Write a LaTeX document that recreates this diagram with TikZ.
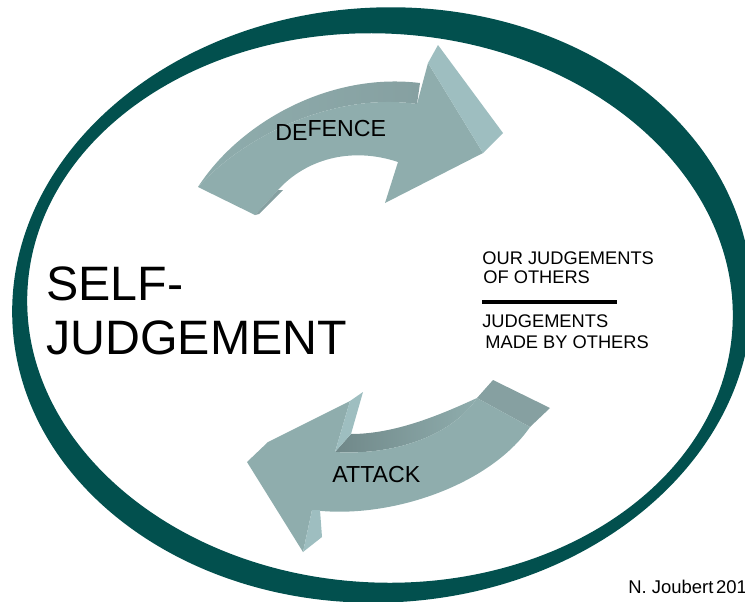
\documentclass[tikz,border=0pt]{standalone}
\usepackage{fontspec}
\setmainfont{Liberation Sans}
\usepackage{xcolor}
\usepackage{tikz}
\definecolor{ringteal}{RGB}{2,80,78}
\definecolor{arrowface}{RGB}{143,173,173}
\definecolor{arrowlit}{RGB}{158,190,192}
\definecolor{arrowdark}{RGB}{112,136,137}
\definecolor{arrowtop}{RGB}{134,160,161}

\begin{document}
\begin{tikzpicture}[
                x = 0.02cm, y = -0.02cm,
                every node/.append style = {anchor = base west, inner sep = 0pt},
                ring/.style = {fill = ringteal, even odd rule},
                face/.style = {fill = arrowface},
                litface/.style = {fill = arrowlit},
                tailface/.style = {fill = arrowtop},
                band/.style = {left color = arrowdark, right color = arrowface},
                topband/.style = {left color = arrowface, middle color = arrowdark, right color = arrowtop},
                bigtext/.style = {font = \fontsize{27.5}{30}\selectfont},
                sidetext/.style = {font = \fontsize{10.4}{12}\selectfont},
                arrowtext/.style = {font = \fontsize{13.2}{15}\selectfont},
                divider/.style = {line width = 2.6pt}]
            \useasboundingbox (0,0) rectangle (745,602);
            \clip (0,0) rectangle (745,602);
            \path[ring] (382,305) ellipse [x radius = 370, y radius = 297.5, rotate = 3]
                (380,308) ellipse [x radius = 353, y radius = 274.5, rotate = -3];
            \path[topband] (198,187) .. controls (240,122) and (330,72) .. (420,83)
                -- (417,104) .. controls (335,92) and (245,135) .. (198,187) -- cycle;
            \path[face] (198,187) .. controls (245,135) and (335,92) .. (417,104)
                -- (428,63) -- (483,153) -- (385,203) -- (398,162)
                .. controls (350,146) and (305,160) .. (278,190) -- (255,215) -- cycle;
            \path[litface] (428,63) -- (438,45) -- (503,133) -- (483,153) -- cycle;
            \path[tailface] (255,215) -- (278,190) -- (283,190) -- (259,214) -- cycle;
            \path[tailface] (477,398) -- (493,380) -- (550,408) -- (530,427) -- cycle;
            \path[band] (335,452) -- (351,434) .. controls (395,434) and (440,415) .. (477,398)
                .. controls (455,432) and (400,456) .. (335,452) -- cycle;
            \path[face] (247,462) -- (268,442) -- (350,401) -- (335,452)
                .. controls (400,456) and (455,432) .. (477,398) -- (530,427)
                .. controls (490,485) and (390,520) .. (312,510) -- (303,552) -- cycle;
            \path[litface] (350,401) -- (363,392) -- (351,434) -- (335,452) -- cycle;
            \path[litface] (312,510) -- (320,510) -- (322,537) -- (303,552) -- cycle;
            \node[bigtext] (selfA) at (46,300) {SELF-};
            \node[bigtext] (selfB) at (46,354) {JUDGEMENT};
            \node[sidetext] (ourA) at (482,264) {OUR JUDGEMENTS};
            \node[sidetext] (ourB) at (483,283) {OF OTHERS};
            \node[sidetext] (madeA) at (482,327) {JUDGEMENTS};
            \node[sidetext] (madeB) at (485,348) {MADE BY OTHERS};
            \coordinate (ruleL) at (482,302);
            \coordinate (ruleR) at (617,302);
            \draw[divider] (ruleL) -- (ruleR);
            \node[arrowtext] (defence) at (275,136.7) {\raisebox{-1.9pt}{DE}FENCE};
            \node[arrowtext] (attack) at (332,482.7) {ATTACK};
            \node[sidetext, font = \fontsize{10.5}{12}\selectfont] (credit) at (628,593.3) {N. Joubert\kern1.5pt 201};
            \end{tikzpicture}
\end{document}
